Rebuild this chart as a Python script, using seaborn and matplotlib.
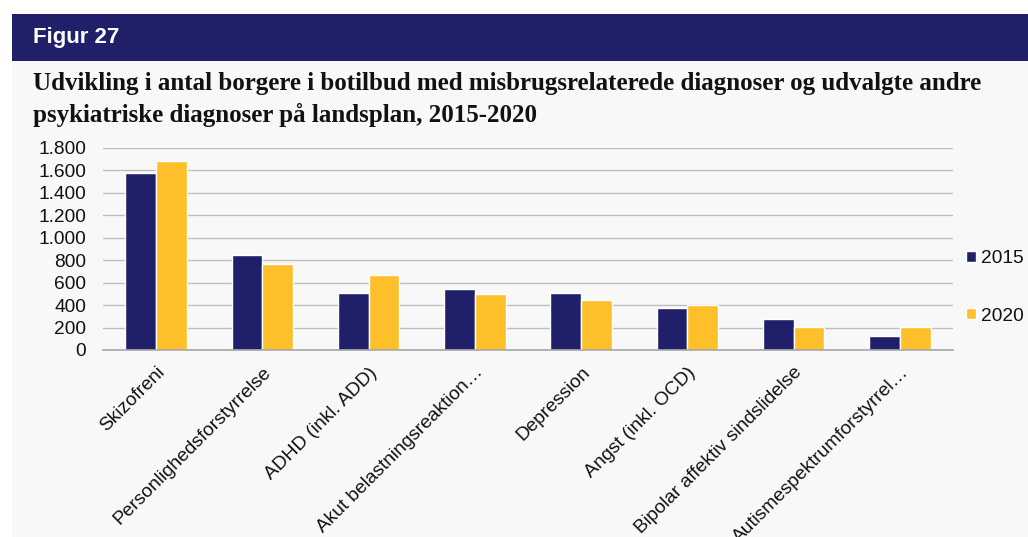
import matplotlib
matplotlib.use("Agg")
import matplotlib.pyplot as plt
import seaborn as sns
import pandas as pd
from matplotlib.ticker import FuncFormatter, MultipleLocator, FixedLocator
from matplotlib.patches import Rectangle

categories = ["Skizofreni", "Personlighedsforstyrrelse", "ADHD (inkl. ADD)",
              "Akut belastningsreaktion…", "Depression", "Angst (inkl. OCD)",
              "Bipolar affektiv sindslidelse", "Autismespektrumforstyrrel…"]
values_2015 = [1580, 845, 512, 542, 506, 378, 277, 125]
values_2020 = [1680, 762, 667, 500, 443, 405, 205, 205]
years = ["2015", "2020"]
colors = ["#20206a", "#fdc02a"]

df = pd.DataFrame({
    "cat": categories * 2,
    "val": values_2015 + values_2020,
    "year": [years[0]] * len(categories) + [years[1]] * len(categories),
})

sns.set_theme(style="white")
plt.rcParams['font.family'] = ['Liberation Sans', 'DejaVu Sans']

W, H = 1028, 537
fig = plt.figure(figsize=(W / 100, H / 100), dpi=100)
fig.patch.set_facecolor("white")

# background panel and header band
fig.add_artist(Rectangle((12 / W, 0), 1 - 12 / W, 1 - 61 / H, transform=fig.transFigure,
                         facecolor="#f8f8f8", edgecolor="none", zorder=-10))
fig.add_artist(Rectangle((12 / W, 1 - 61 / H), 1 - 12 / W, 47 / H, transform=fig.transFigure,
                         facecolor="#20206a", edgecolor="none", zorder=-9))
fig.text(33 / W, 1 - 38 / H, "Figur 27", color="white", fontsize=16, fontweight="bold",
         va="center", ha="left")
title_kw = dict(family=["Liberation Serif", "DejaVu Serif"], fontweight="bold", fontsize=18,
                va="baseline", ha="left", color="#111111")
fig.text(33 / W, 1 - 90 / H,
         "Udvikling i antal borgere i botilbud med misbrugsrelaterede diagnoser og udvalgte andre",
         **title_kw)
fig.text(33 / W, 1 - 122 / H, "psykiatriske diagnoser på landsplan, 2015-2020", **title_kw)

left, right, top, bottom = 103, 953, 148, 350
ax = fig.add_axes([left / W, 1 - bottom / H, (right - left) / W, (bottom - top) / H])
ax.set_facecolor("none")

sns.barplot(data=df, x="cat", y="val", hue="year", palette=colors, saturation=1,
            width=0.58, gap=0, ax=ax, legend=True)

ax.set_ylim(0, 1800)
ax.set_xlim(-0.5, len(categories) - 0.5)
ax.yaxis.set_major_locator(MultipleLocator(200))
ax.yaxis.set_major_formatter(FuncFormatter(lambda v, p: f"{int(v):,}".replace(",", ".")))
ax.grid(axis="y", color="#bdbdbd", linewidth=1.0)
ax.set_axisbelow(True)
for s in ["left", "right", "top"]:
    ax.spines[s].set_visible(False)
ax.spines["bottom"].set_color("#a6a6a6")
ax.spines["bottom"].set_linewidth(1.2)
ax.set_xlabel("")
ax.set_ylabel("")
ax.tick_params(axis="y", length=0, labelsize=13.8, labelcolor="#111111", pad=12)

# category labels rotated, tick marks at category boundaries
ax.set_xticks(range(len(categories)))
ax.set_xticklabels(categories, rotation=45, ha="right", va="top",
                   rotation_mode="anchor", fontsize=13.8, color="#111111")
ax.tick_params(axis="x", which="major", length=0, pad=10)
ax.xaxis.set_minor_locator(FixedLocator([i - 0.5 for i in range(len(categories) + 1)]))
ax.tick_params(axis="x", which="minor", length=5, color="#a6a6a6", width=1, direction="out")

leg = ax.legend(loc="center left", bbox_to_anchor=(1.0, 0.31), frameon=False,
                fontsize=13.8, handlelength=0.5, handleheight=0.5, handletextpad=0.25,
                labelspacing=2.1, borderaxespad=0.7, borderpad=0.0)
for t in leg.get_texts():
    t.set_color("#111111")

fig.savefig("out.png", dpi=100, facecolor="white")
